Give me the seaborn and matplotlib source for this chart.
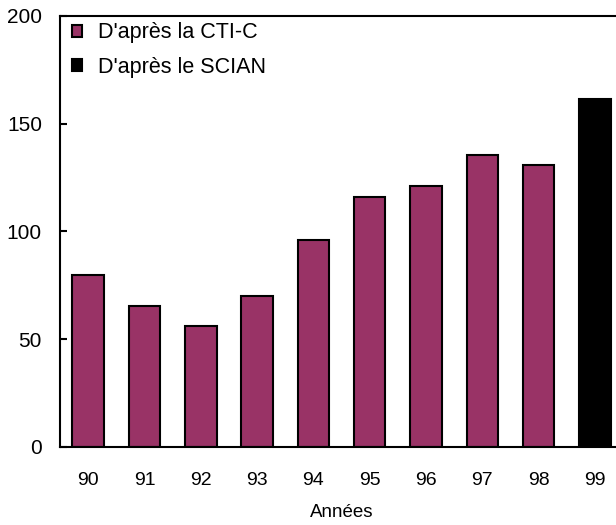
import matplotlib
matplotlib.use("Agg")
import matplotlib.pyplot as plt
import pandas as pd
import seaborn as sns

sns.set_style("white")
plt.rcParams["font.family"] = ["Liberation Sans", "DejaVu Sans"]
plt.rcParams["text.color"] = "black"
plt.rcParams["axes.labelcolor"] = "black"
plt.rcParams["xtick.color"] = "black"
plt.rcParams["ytick.color"] = "black"

years = ["90", "91", "92", "93", "94", "95", "96", "97", "98", "99"]
values = [80, 65.5, 56, 70, 96, 116, 121, 135.5, 131, 161.5]
sources = ["D'après la CTI-C"] * 9 + ["D'après le SCIAN"]
colors = {"D'après la CTI-C": "#993366", "D'après le SCIAN": "#000000"}

df = pd.DataFrame({"year": years, "value": values, "source": sources})

fig = plt.figure(figsize=(6.16, 5.25), dpi=100)
ax = fig.add_axes([0.0974, 0.1486, 0.914, 0.821])

sns.barplot(
    data=df, x="year", y="value", hue="source", palette=colors,
    dodge=False, width=0.56, edgecolor="black", linewidth=1.5,
    saturation=1, ax=ax,
)

ax.set_xlim(-0.5, 9.5)
ax.set_ylim(0, 200)
ax.set_yticks([0, 50, 100, 150, 200])
ax.set_xlabel("Années", fontsize=13.5, labelpad=11)
ax.set_ylabel("")
ax.tick_params(axis="y", left=True, direction="in", length=5, width=1.5,
               labelsize=15, pad=13)
ax.tick_params(axis="x", length=0, labelsize=14, pad=18)
for side in ["top", "left", "bottom", "right"]:
    ax.spines[side].set_linewidth(1.5)
    ax.spines[side].set_color("black")

ax.legend(
    loc="upper left", bbox_to_anchor=(0.0135, 0.995), frameon=False,
    fontsize=15.5, handlelength=0.45, handleheight=0.45, handletextpad=0.75,
    labelspacing=0.62, borderaxespad=0.0, borderpad=0.2,
)

fig.savefig("out.png", dpi=100)
